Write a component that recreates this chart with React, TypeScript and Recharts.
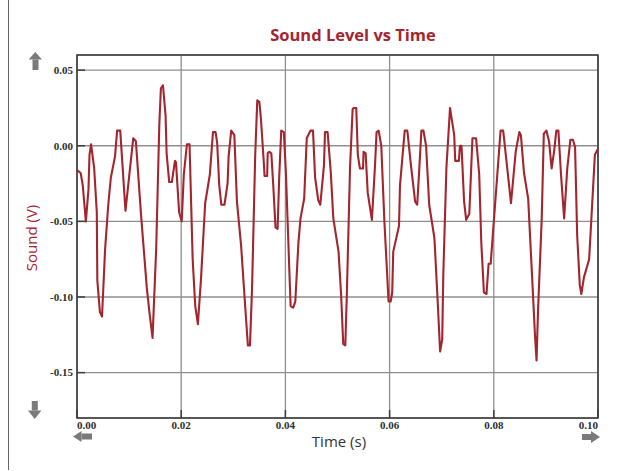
import React from "react";
import {
  LineChart,
  Line,
  XAxis,
  YAxis,
  CartesianGrid,
  ReferenceArea,
} from "recharts";

// time (s) and sound level (V)
const times = [
  0.0, 0.0007, 0.0011, 0.0017, 0.0022, 0.0024, 0.0027, 0.0033, 0.0038, 0.0039,
  0.0044, 0.0048, 0.0054, 0.006, 0.0065, 0.0073, 0.0077, 0.0083, 0.0093, 0.0108,
  0.0113, 0.0123, 0.0134, 0.0139, 0.0145, 0.0152, 0.0158, 0.0161, 0.0165, 0.017,
  0.0172, 0.0177, 0.0182, 0.0188, 0.019, 0.0196, 0.0201, 0.0205, 0.0211, 0.0216,
  0.0222, 0.0227, 0.0232, 0.0238, 0.0246, 0.0255, 0.0261, 0.0266, 0.0269, 0.0273,
  0.0277, 0.0283, 0.0289, 0.0291, 0.0296, 0.0302, 0.0307, 0.0315, 0.0321, 0.0328,
  0.0332, 0.0336, 0.0342, 0.0346, 0.035, 0.0353, 0.0358, 0.036, 0.0365, 0.0366,
  0.0369, 0.0373, 0.0377, 0.0381, 0.0385, 0.0388, 0.0392, 0.0397, 0.0401, 0.0407,
  0.041, 0.0415, 0.0419, 0.0425, 0.0429, 0.0436, 0.0441, 0.0448, 0.0453, 0.0457,
  0.0463, 0.0467, 0.0474, 0.0476, 0.0481, 0.0487, 0.0492, 0.0502, 0.0507, 0.0511,
  0.0515, 0.0518, 0.0524, 0.0529, 0.0531, 0.0536, 0.0539, 0.0543, 0.0549, 0.055,
  0.0554, 0.0558, 0.0566, 0.0572, 0.0575, 0.0579, 0.0584, 0.059, 0.0598, 0.0602,
  0.0605, 0.0607, 0.0618, 0.062, 0.0629, 0.0634, 0.0641, 0.0649, 0.0653, 0.0657,
  0.0661, 0.0665, 0.067, 0.0676, 0.0686, 0.0692, 0.0697, 0.0701, 0.0703, 0.0709,
  0.0716, 0.0724, 0.0726, 0.0733, 0.0735, 0.0738, 0.0743, 0.0747, 0.0753, 0.0759,
  0.0766, 0.0772, 0.0776, 0.0781, 0.0786, 0.079, 0.0794, 0.0813, 0.0818, 0.0833,
  0.0842, 0.0849, 0.0852, 0.0858, 0.0866, 0.0874, 0.0879, 0.0882, 0.0885, 0.0892,
  0.0896, 0.0901, 0.0906, 0.0911, 0.0916, 0.092, 0.0924, 0.0929, 0.0935, 0.0941,
  0.0947, 0.0952, 0.0956, 0.096, 0.0965, 0.0968, 0.0973, 0.0983, 0.0994, 0.1,
];

const sound = [
  -0.016, -0.018, -0.026, -0.05, -0.029, -0.006, 0.001, -0.015, -0.044, -0.089,
  -0.11, -0.113, -0.068, -0.039, -0.021, -0.007, 0.01, 0.01, -0.043, 0.005,
  0.003, -0.046, -0.094, -0.11, -0.127, -0.068, 0.014, 0.038, 0.04, 0.02,
  -0.005, -0.024, -0.024, -0.01, -0.011, -0.044, -0.05, -0.019, 0.001, 0.001,
  -0.075, -0.106, -0.118, -0.088, -0.038, -0.019, 0.009, 0.009, 0.002, -0.026,
  -0.039, -0.039, -0.025, -0.007, 0.01, 0.007, -0.037, -0.066, -0.097, -0.132,
  -0.132, -0.094, -0.007, 0.03, 0.029, 0.018, -0.008, -0.02, -0.02, -0.005,
  -0.004, -0.005, -0.028, -0.054, -0.055, -0.022, 0.01, 0.009, -0.018, -0.077,
  -0.106, -0.107, -0.103, -0.064, -0.048, -0.035, 0.005, 0.01, 0.01, -0.021,
  -0.036, -0.039, -0.013, 0.009, 0.009, -0.017, -0.048, -0.07, -0.099, -0.131,
  -0.132, -0.097, -0.015, 0.024, 0.025, 0.025, -0.006, -0.015, -0.015, -0.004,
  -0.005, -0.031, -0.049, -0.013, 0.009, 0.01, 0.0, -0.05, -0.103, -0.103,
  -0.097, -0.07, -0.053, -0.026, 0.01, 0.01, -0.013, -0.037, -0.039, -0.015,
  0.01, 0.01, 0.0, -0.039, -0.061, -0.101, -0.136, -0.128, -0.086, -0.015,
  0.025, 0.007, -0.01, -0.01, 0.0, 0.0, -0.037, -0.049, -0.045, 0.005,
  0.005, -0.019, -0.064, -0.097, -0.098, -0.078, -0.078, 0.01, 0.01, -0.038,
  -0.004, 0.009, 0.007, -0.018, -0.035, -0.09, -0.125, -0.142, -0.108, -0.048,
  0.008, 0.01, 0.003, -0.015, -0.003, 0.01, 0.01, -0.019, -0.048, -0.015,
  0.004, 0.004, -0.001, -0.059, -0.092, -0.098, -0.087, -0.075, -0.006, -0.002,
];

const xTicks = [0, 0.02, 0.04, 0.06, 0.08, 0.1];
const yTicks = [0.05, 0, -0.05, -0.1, -0.15];

const data = times.map((t, i) => ({ t, v: sound[i] }));

const RED = "#a3262f";
const AXIS = "#3c3c3c";
const GRID = "#8f8f8f";
const ARROW = "#7a7a7a";
const TICK_FONT = "'Liberation Serif', 'DejaVu Serif', serif";
const LABEL_FONT = "'Open Sans', 'Noto Sans', sans-serif";

function YTick(props: any) {
  const { x, y, payload } = props;
  return (
    <g>
      <line x1={x + 4} x2={x + 12} y1={y} y2={y} stroke={AXIS} strokeWidth={1.5} />
      <text
        x={x}
        y={y}
        dy="0.35em"
        textAnchor="end"
        fontFamily={TICK_FONT}
        fontWeight={700}
        fontSize={11}
        fill="#2e2e2e"
      >
        {Number(payload.value).toFixed(2)}
      </text>
    </g>
  );
}

function XTick(props: any) {
  const { x, y, payload, index } = props;
  const anchor =
    index === 0 ? "start" : index === xTicks.length - 1 ? "end" : "middle";
  return (
    <g>
      <line x1={x} x2={x} y1={y - 3} y2={y - 11} stroke={AXIS} strokeWidth={1.5} />
      <text
        x={x}
        y={y}
        dy="0.76em"
        textAnchor={anchor}
        fontFamily={TICK_FONT}
        fontWeight={700}
        fontSize={11}
        fill="#2e2e2e"
      >
        {Number(payload.value).toFixed(2)}
      </text>
    </g>
  );
}

export default function App() {
  return (
    <div style={{ position: "fixed", left: 0, top: 0, width: 623, height: 471, background: "#fff" }}>
      <LineChart
        width={623}
        height={471}
        data={data}
        margin={{ top: 55, right: 25, bottom: 23, left: 17 }}
      >
        <CartesianGrid stroke={GRID} strokeWidth={1.3} />
        <XAxis
          dataKey="t"
          type="number"
          domain={[0, 0.1]}
          ticks={xTicks}
          height={30}
          tickSize={0}
          tickMargin={3}
          axisLine={false}
          tickLine={false}
          tick={<XTick />}
          interval={0}
        />
        <YAxis
          type="number"
          domain={[-0.18, 0.06]}
          ticks={yTicks}
          width={60}
          tickSize={0}
          tickMargin={4}
          axisLine={false}
          tickLine={false}
          tick={<YTick />}
          interval={0}
        />
        <ReferenceArea
          x1={0}
          x2={0.1}
          y1={-0.18}
          y2={0.06}
          fill="none"
          stroke={AXIS}
          strokeWidth={1.6}
          fillOpacity={0}
        />
        <Line
          type="linear"
          dataKey="v"
          stroke={RED}
          strokeWidth={2.1}
          dot={false}
          strokeLinejoin="round"
          isAnimationActive={false}
        />
      </LineChart>
      <svg
        width={623}
        height={471}
        style={{ position: "absolute", left: 0, top: 0, pointerEvents: "none" }}
      >
        <line x1={8.5} x2={8.5} y1={0} y2={470} stroke="#666" strokeWidth={1} />
        <text
          x={353}
          y={41}
          textAnchor="middle"
          fontFamily={LABEL_FONT}
          fontWeight={700}
          fontSize={16.5}
          fill={RED}
        >
          Sound Level vs Time
        </text>
        <text
          x={31}
          y={238}
          transform="rotate(-90 31 238)"
          textAnchor="middle"
          dominantBaseline="central"
          fontFamily={LABEL_FONT}
          fontSize={15}
          fill={RED}
        >
          Sound (V)
        </text>
        <text
          x={339}
          y={447}
          textAnchor="middle"
          fontFamily={LABEL_FONT}
          fontSize={15}
          fill="#333"
        >
          Time (s)
        </text>
        {/* scroll arrows */}
        <g fill={ARROW}>
          <polygon points="35.3,52 42,59.5 28.7,59.5" />
          <rect x={32.5} y={59.5} width={6} height={10.5} />
          <rect x={31.8} y={401} width={6} height={9.5} />
          <polygon points="28,410.5 41.4,410.5 34.7,419" />
          <polygon points="73,436.5 81.5,431 81.5,442" />
          <rect x={81.5} y={433.5} width={10.5} height={6} />
          <rect x={582} y={434} width={9} height={6} />
          <polygon points="591,431 591,443 600,437" />
        </g>
      </svg>
    </div>
  );
}
